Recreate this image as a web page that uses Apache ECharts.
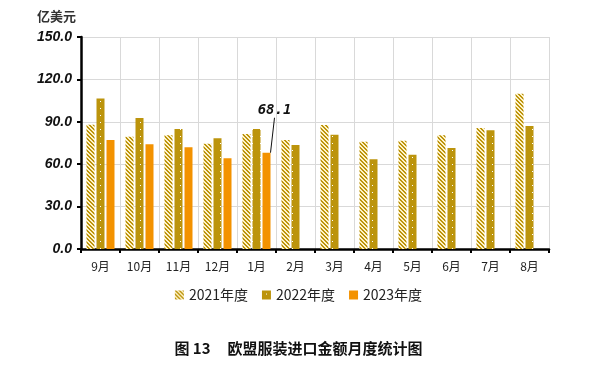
<!DOCTYPE html>
<html><head><meta charset="utf-8">
<script src="https://cdn.jsdelivr.net/npm/echarts@6/dist/echarts.min.js"></script>
<style>html,body{margin:0;padding:0;background:#fff}#c{width:597px;height:372px}</style>
</head><body><div id="c"></div>
<script>
const categories = ['9月','10月','11月','12月','1月','2月','3月','4月','5月','6月','7月','8月'];
const s2021 = [88.0, 79.5, 80.4, 74.5, 81.4, 77.1, 87.8, 75.9, 76.6, 80.4, 85.6, 109.9];
const s2022 = [106.4, 92.7, 84.9, 78.3, 84.9, 73.6, 80.9, 63.5, 66.7, 71.5, 84.0, 87.0];
const s2023 = [77.1, 74.1, 72.0, 64.2, 68.1, null, null, null, null, null, null, null];
const seriesNames = ['2021年度','2022年度','2023年度'];
const yTicks = [0, 30, 60, 90, 120, 150];

const GOLD = '#BC940C', ORANGE = '#F39200';
function stripe(){
  const c = document.createElement('canvas'); c.width = 4; c.height = 4;
  const x = c.getContext('2d');
  x.fillStyle = '#FFF3C8'; x.fillRect(0,0,4,4);
  x.fillStyle = GOLD;
  for (let i=0;i<4;i++){ x.fillRect(i,i,1,1); x.fillRect((i+1)%4,i,1,1); }
  return c;
}
function dots(){
  const c = document.createElement('canvas'); c.width = 8; c.height = 7;
  const x = c.getContext('2d');
  x.fillStyle = GOLD; x.fillRect(0,0,8,7);
  x.fillStyle = '#FFFFFF'; x.fillRect(4,3,1,1);
  return c;
}
const chart = echarts.init(document.getElementById('c'));
const idx1 = categories.indexOf('1月');
chart.setOption({
  animation:false,
  textStyle:{fontFamily:'Liberation Sans'},
  grid:{left:81,right:48,top:37,bottom:123},
  graphic:[
    {type:'text',left:37,top:10,style:{text:'亿美元',font:'bold 13px "Noto Sans CJK SC"',fill:'#333'}},
    {type:'text',left:'center',top:341,style:{text:'图 13     欧盟服装进口金额月度统计图',font:'bold 15px "Noto Sans CJK SC"',fill:'#111'}}
  ],
  legend:{bottom:65,left:'center',itemWidth:9,itemHeight:9,itemGap:14,icon:'rect',
    textStyle:{fontSize:14,color:'#222',fontFamily:'"Noto Sans CJK SC"'},data:seriesNames},
  xAxis:{type:'category',data:categories,
    axisLine:{lineStyle:{color:'#000',width:2.5}},
    axisTick:{show:true,length:4,lineStyle:{color:'#000',width:2}},
    splitLine:{show:true,lineStyle:{color:'#d9d9d9'}},
    axisLabel:{color:'#222',fontSize:12,margin:11,fontFamily:'"Noto Sans CJK SC"'}},
  yAxis:{type:'value',min:0,max:150,interval:30,
    axisLine:{show:true,lineStyle:{color:'#000',width:2.5}},
    axisTick:{show:true,length:4,lineStyle:{color:'#000',width:2}},
    splitLine:{lineStyle:{color:'#d9d9d9'}},
    axisLabel:{color:'#111',fontSize:14,fontWeight:'bold',fontStyle:'italic',margin:9,
      formatter:v=>yTicks.includes(v)?v.toFixed(1):''}},
  series:[
    {name:seriesNames[0],type:'bar',data:s2021,barWidth:8,barGap:'25%',
      itemStyle:{color:{image:stripe(),repeat:'repeat'}}},
    {name:seriesNames[1],type:'bar',data:s2022,barWidth:8,barGap:'25%',
      itemStyle:{color:{image:dots(),repeat:'repeat'}}},
    {name:seriesNames[2],type:'bar',data:s2023.map((v,i)=> i===idx1 ? {value:v,label:{show:true}} : v),
      barWidth:8,barGap:'25%',itemStyle:{color:ORANGE},
      label:{show:false,position:'top',formatter:p=>p.value.toFixed(1),
        fontFamily:'DejaVu Sans Mono',fontWeight:'bold',fontStyle:'italic',fontSize:14,color:'#111'},
      labelLayout:{dx:8,dy:-30},
      labelLine:{show:true,lineStyle:{color:'#111',width:1}}}
  ]
});
</script></body></html>
